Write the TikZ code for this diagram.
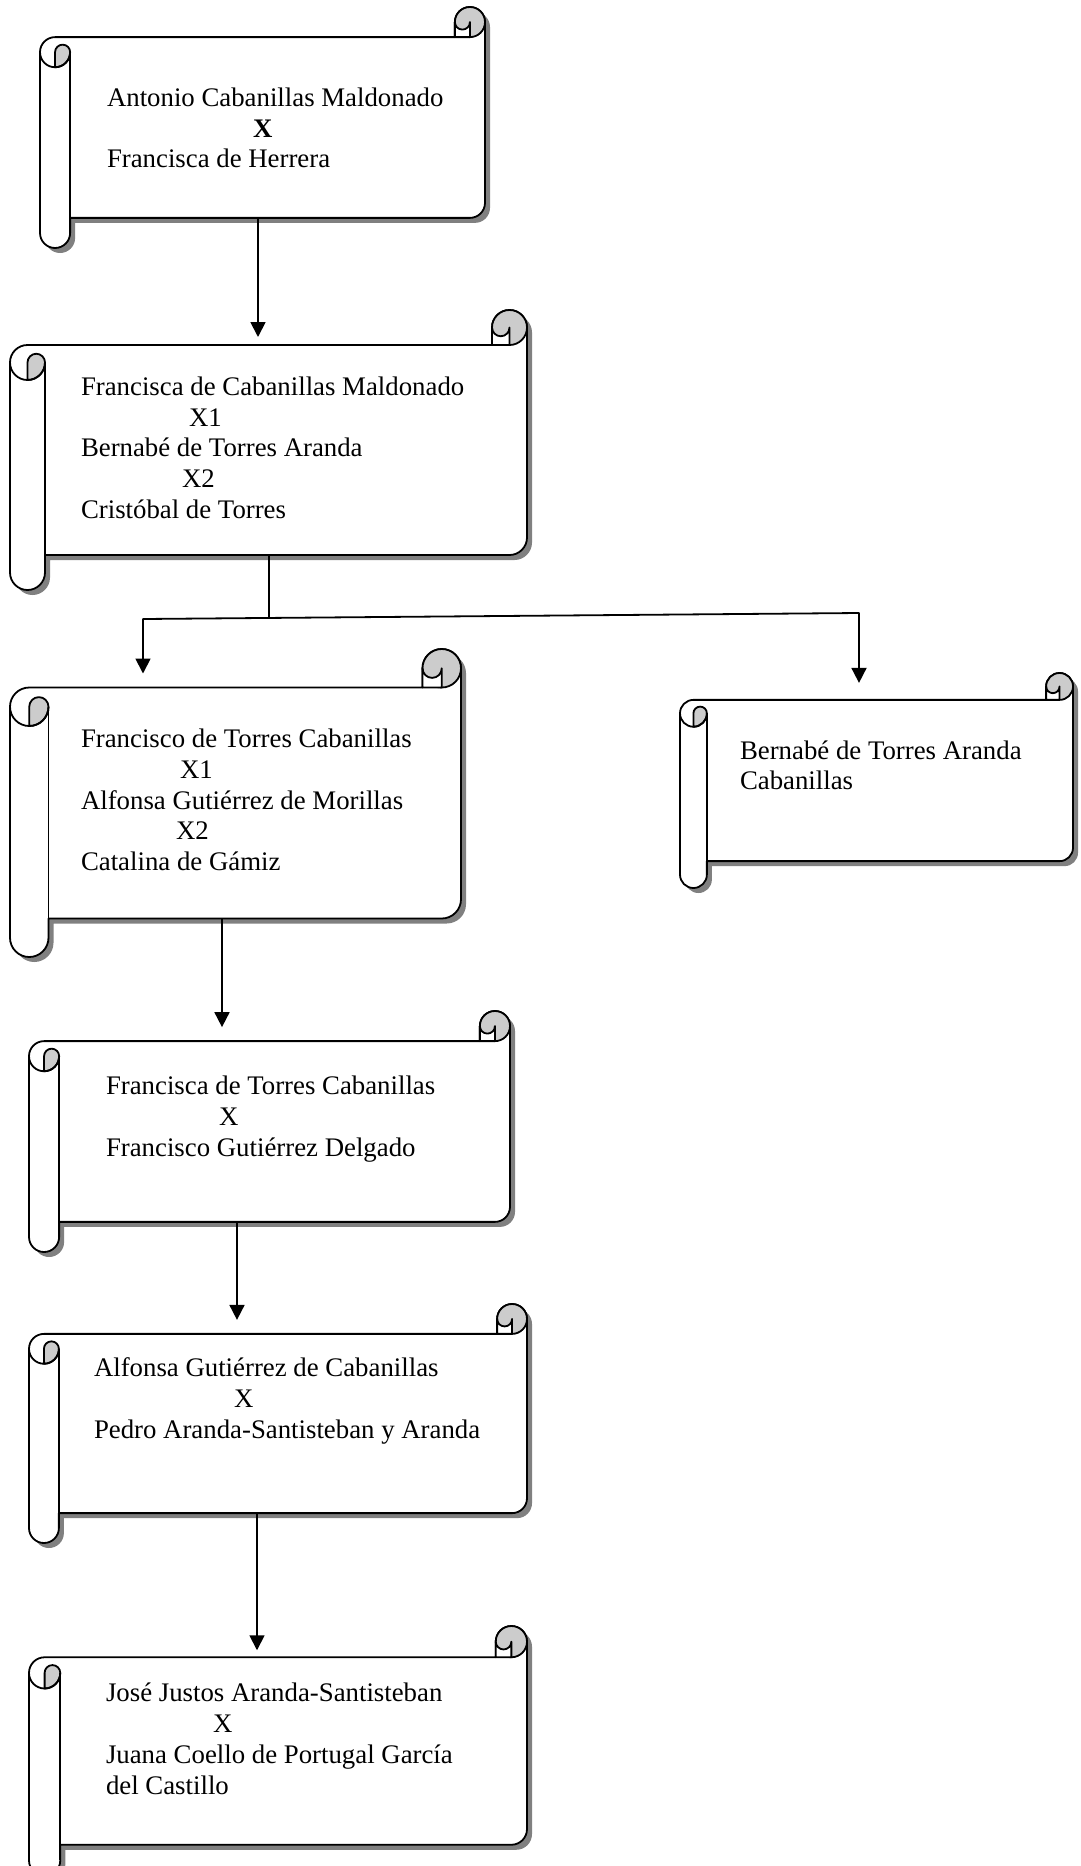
\documentclass[tikz,border=0pt]{standalone}
\usepackage{fontspec}
\setmainfont{Liberation Serif}
\usetikzlibrary{arrows.meta,calc}
\definecolor{curlgray}{RGB}{204,204,204}
\definecolor{shadowgray}{RGB}{128,128,128}
% #1 name, #2 left, #3 top, #4 right, #5 bottom (pixels, y downwards)
\newcommand\drawscroll[5]{%
  \pgfmathsetmacro\sL{#2}%
  \pgfmathsetmacro\sT{#3}%
  \pgfmathsetmacro\sR{#4}%
  \pgfmathsetmacro\sB{#5}%
  \pgfmathsetmacro\sc{(#5-#3)/8}%
  \pgfmathsetmacro\sh{\sc/2}%
  \pgfmathsetmacro\sq{\sc/4}%
  \def\scrollpath{(\sL+\sh,\sT+\sc) -- (\sR-\sc,\sT+\sc) -- (\sR-\sc,\sT+\sh)
    arc[start angle=180,end angle=360,radius=\sh] -- (\sR,\sB-\sc-\sh)
    arc[start angle=0,end angle=90,radius=\sh] -- (\sL+\sc,\sB-\sc) -- (\sL+\sc,\sB-\sh)
    arc[start angle=0,end angle=180,radius=\sh] -- (\sL,\sT+\sc+\sh)
    arc[start angle=180,end angle=270,radius=\sh] -- cycle}%
  \fill[shadowgray,shift={(5,5)}] \scrollpath;
  \filldraw[scrollline,fill=white] \scrollpath;
  % top right curl
  \filldraw[scrollline,fill=curlgray] (\sR-\sh,\sT+\sh) circle[radius=\sh];
  \filldraw[scrollline,fill=white] (\sR-\sc,\sT+\sc) -- (\sR-\sc,\sT+\sh)
    arc[start angle=180,end angle=0,radius=\sq] -- (\sR-\sh,\sT+\sc) -- cycle;
  % left roll
  \filldraw[scrollline,fill=curlgray] (\sL+\sh,\sT+2*\sc) -- (\sL+\sh,\sT+\sc+\sh)
    arc[start angle=180,end angle=360,radius=\sq]
    arc[start angle=0,end angle=90,radius=\sh] -- cycle;
  \draw[scrollline] (\sL,\sT+\sc+\sh) arc[start angle=180,end angle=0,radius=\sh];
  \draw[scrollline] (\sL+\sc,\sT+\sc+\sh) -- (\sL+\sc,\sB-\sh);
  % body as a named node
  \node[inner sep=0pt,outer sep=0pt,draw=none,
        minimum width={(\sR-\sL-\sc)*1pt},
        minimum height={(\sB-\sT-2*\sc)*1pt}] (#1)
        at ({(\sL+\sc+\sR)/2},{(\sT+\sB)/2}) {};%
}
\begin{document}
\begin{tikzpicture}[x=1pt,y=-1pt,
  scrollline/.style={line width=1.8pt,line join=round,draw=black},
  txt/.style={anchor=base west,inner sep=0pt,outer sep=0pt,
    font=\fontsize{26.8}{31}\selectfont},
  conn/.style={line width=1.8pt},
  arr/.style={conn,-{Triangle[length=15pt,width=15pt]}}]
\useasboundingbox[fill=white] (0,0) rectangle (1080,1866);

\drawscroll{s1}{40}{7}{485}{248}
\drawscroll{s2}{10}{310}{527}{590}
\drawscroll{s3}{10}{649}{461}{957}
\drawscroll{s4}{680}{673}{1073}{888}
\drawscroll{s5}{29}{1011}{510}{1252}
\drawscroll{s6}{29}{1304}{527}{1543}
\drawscroll{s7}{29}{1626}{527}{1876}

% texts
\node[txt] (t1a) at (107,106) {Antonio Cabanillas Maldonado};
\node[txt] (t1b) at (253,137) {\bfseries X};
\node[txt] (t1c) at (107,167) {Francisca de Herrera};

\node[txt] (t2a) at (81,395) {Francisca de Cabanillas Maldonado};
\node[txt] (t2b) at (189,426) {X1};
\node[txt] (t2c) at (81,456) {Bernabé de Torres Aranda};
\node[txt] (t2d) at (182,487) {X2};
\node[txt] (t2e) at (81,518) {Cristóbal de Torres};

\node[txt] (t3a) at (81,747) {Francisco de Torres Cabanillas};
\node[txt] (t3b) at (180,778) {X1};
\node[txt] (t3c) at (81,809) {Alfonsa Gutiérrez de Morillas};
\node[txt] (t3d) at (176,839) {X2};
\node[txt] (t3e) at (81,870) {Catalina de Gámiz};

\node[txt] (t4a) at (740,759) {Bernabé de Torres Aranda};
\node[txt] (t4b) at (740,789) {Cabanillas};

\node[txt] (t5a) at (106,1094) {Francisca de Torres Cabanillas};
\node[txt] (t5b) at (219,1125) {X};
\node[txt] (t5c) at (106,1156) {Francisco Gutiérrez Delgado};

\node[txt] (t6a) at (94,1376) {Alfonsa Gutiérrez de Cabanillas};
\node[txt] (t6b) at (234,1407) {X};
\node[txt] (t6c) at (94,1438) {Pedro Aranda-Santisteban y Aranda};

\node[txt] (t7a) at (106,1701) {José Justos Aranda-Santisteban};
\node[txt] (t7b) at (213,1732) {X};
\node[txt] (t7c) at (106,1763) {Juana Coello de Portugal García};
\node[txt] (t7d) at (106,1794) {del Castillo};

% connectors
\coordinate (a1) at (258,0);
\draw[arr,shorten >=8pt] (a1 |- s1.south) -- (a1 |- s2.north);

\coordinate (jl) at (143,619);
\coordinate (jr) at (859,613);
\coordinate (jm) at ($(jl)!0.176!(jr)$);
\draw[conn] (jm |- s2.south) -- (jm);
\draw[conn,line cap=round] (jl) -- (jr);
\draw[arr,shorten >=14pt] (jl) -- (jl |- s3.north);
\draw[arr,shorten >=17pt] (jr) -- (jr |- s4.north);

\coordinate (a3) at (222,0);
\draw[arr,shorten >=14pt] (a3 |- s3.south) -- (a3 |- s5.north);
\coordinate (a4) at (237,0);
\draw[arr,shorten >=14pt] (a4 |- s5.south) -- (a4 |- s6.north);
\coordinate (a5) at (257,0);
\draw[arr,shorten >=7pt] (a5 |- s6.south) -- (a5 |- s7.north);
\end{tikzpicture}
\end{document}
